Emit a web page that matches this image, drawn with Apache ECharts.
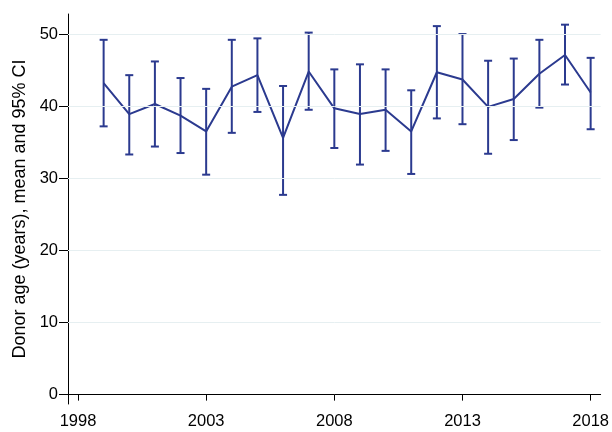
<!DOCTYPE html>
<html>
<head>
<meta charset="utf-8">
<script src="https://cdn.jsdelivr.net/npm/echarts@6/dist/echarts.min.js"></script>
<style>
  html, body { margin: 0; padding: 0; background: #fff; }
  #main { width: 612px; height: 432px; }
</style>
</head>
<body>
<div id="main"></div>
<script>
  // data
  var years = [1999, 2000, 2001, 2002, 2003, 2004, 2005, 2006, 2007, 2008,
               2009, 2010, 2011, 2012, 2013, 2014, 2015, 2016, 2017, 2018];
  var meanAge = [43.2, 38.9, 40.3, 38.7, 36.5, 42.7, 44.3, 35.6, 44.8, 39.7,
                 38.9, 39.5, 36.5, 44.7, 43.7, 39.9, 41.0, 44.5, 47.1, 41.9];
  var upperCI = [49.2, 44.3, 46.2, 43.9, 42.4, 49.2, 49.4, 42.8, 50.2, 45.1,
                 45.8, 45.1, 42.2, 51.1, 50.0, 46.3, 46.6, 49.2, 51.3, 46.7];
  var lowerCI = [37.2, 33.3, 34.4, 33.5, 30.5, 36.3, 39.2, 27.7, 39.5, 34.2,
                 31.9, 33.8, 30.6, 38.3, 37.5, 33.4, 35.3, 39.8, 43.0, 36.8];
  var xTicks = [1998, 2003, 2008, 2013, 2018];
  var yTicks = [0, 10, 20, 30, 40, 50];

  var navy = '#2b3a8f';
  var font = 'Liberation Sans, Arial, sans-serif';

  var myChart = echarts.init(document.getElementById('main'));

  var lineData = years.map(function (y, i) { return [y, meanAge[i]]; });
  var barData = years.map(function (y, i) { return [y, lowerCI[i], upperCI[i]]; });

  myChart.setOption({
    animation: false,
    grid: { left: 68, right: 10, top: 14, bottom: 28, containLabel: false },
    xAxis: {
      type: 'value',
      min: 1997.61,
      max: 2018.39,
      axisLine: { show: true, lineStyle: { color: '#000', width: 1 } },
      axisTick: { show: true, customValues: xTicks, length: 6, lineStyle: { color: '#000' } },
      axisLabel: {
        customValues: xTicks, color: '#000', fontSize: 16.5, fontFamily: font, margin: 9,
        formatter: function (v) { return String(v); }
      },
      splitLine: { show: false }
    },
    yAxis: {
      type: 'value',
      min: -1.3,
      max: 52.78,
      name: 'Donor age (years), mean and 95% CI',
      nameLocation: 'middle',
      nameGap: 37,
      nameTextStyle: { color: '#000', fontSize: 18, fontFamily: font },
      axisLine: { show: true, lineStyle: { color: '#000', width: 1 } },
      axisTick: { show: true, customValues: yTicks, length: 9, lineStyle: { color: '#000' } },
      axisLabel: { customValues: yTicks, color: '#000', fontSize: 16.5, fontFamily: font, margin: 10 },
      splitLine: { show: false }
    },
    series: [
      {
        // light gridlines
        type: 'line',
        data: [],
        markLine: {
          silent: true,
          symbol: 'none',
          label: { show: false },
          lineStyle: { color: '#e6eff1', width: 1, type: 'solid' },
          data: yTicks.filter(function (v) { return v > 0; }).map(function (v) { return { yAxis: v }; })
        }
      },
      {
        type: 'custom',
        data: barData,
        renderItem: function (params, api) {
          var x = api.value(0);
          var lo = api.coord([x, api.value(1)]);
          var hi = api.coord([x, api.value(2)]);
          var half = 4;
          var style = { stroke: navy, lineWidth: 2, fill: null };
          return {
            type: 'group',
            children: [
              { type: 'line', shape: { x1: lo[0], y1: lo[1], x2: hi[0], y2: hi[1] }, style: style },
              { type: 'line', shape: { x1: hi[0] - half, y1: hi[1], x2: hi[0] + half, y2: hi[1] }, style: style },
              { type: 'line', shape: { x1: lo[0] - half, y1: lo[1], x2: lo[0] + half, y2: lo[1] }, style: style }
            ]
          };
        },
        z: 3
      },
      {
        type: 'line',
        data: lineData,
        showSymbol: false,
        lineStyle: { color: navy, width: 2 },
        z: 4
      }
    ]
  });
</script>
</body>
</html>
